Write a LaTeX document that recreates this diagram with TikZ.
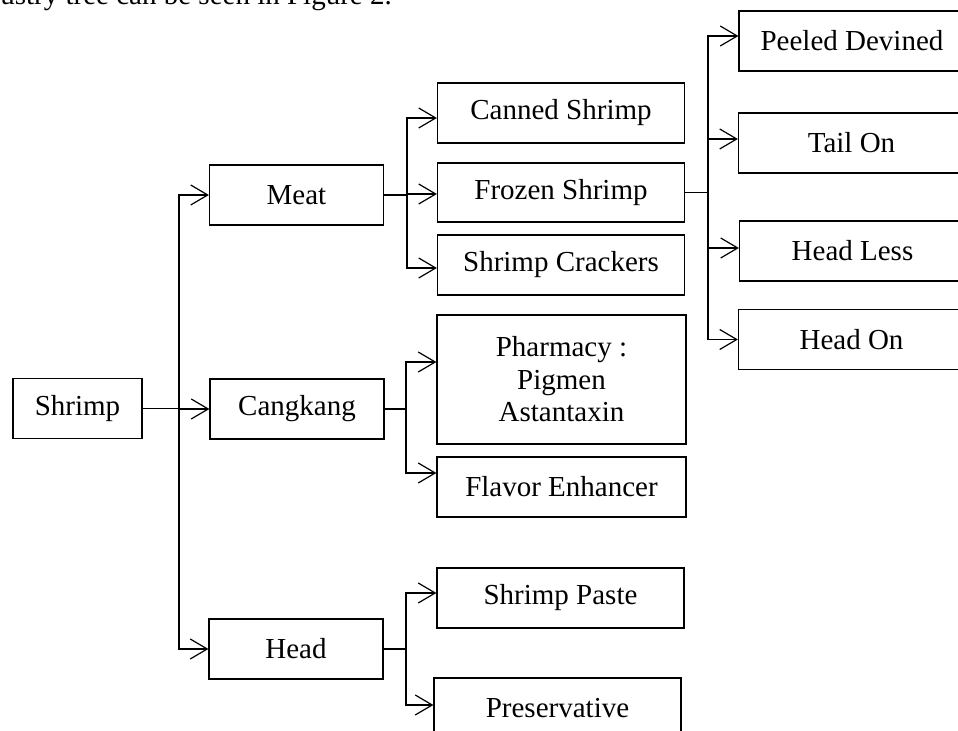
\documentclass[tikz,border=0pt]{standalone}
\usepackage{fontspec}
\setmainfont{Liberation Serif}
\usetikzlibrary{arrows.meta}

\tikzset{
  item/.style={draw, line width=0.6pt, inner sep=0pt, align=center,
    minimum width=123.5pt, minimum height=30pt},
  small/.style={item, minimum width=87pt},
  cut/.style={item, minimum width=113pt},
  arr/.style={-{Straight Barb[length=8.5pt,width=10pt,line width=0.6pt]}, line width=0.6pt},
  link/.style={line width=0.6pt}
}

\begin{document}
\begin{tikzpicture}[x=0.5pt, y=-0.5pt, font=\fontsize{14.5pt}{16.25pt}\selectfont]
\useasboundingbox (0,0) rectangle (958,731);
\clip (0,0) rectangle (958,731);

% cut-off caption line
\node[anchor=base west, inner sep=0pt] (caption) at (0,5) {ustry tree can be seen in Figure 2.};

% boxes
\node[item, minimum width=64.5pt] (shrimp) at (77.5,408.5) {Shrimp};
\node[small] (meat) at (296.5,195) {Meat};
\node[small] (cangkang) at (297,409) {Cangkang};
\node[small] (head) at (296,649) {Head};

\node[item] (canned) at (561,113) {Canned Shrimp};
\node[item, minimum height=29.5pt] (frozen) at (561,192.5) {Frozen Shrimp};
\node[item] (crackers) at (561,265) {Shrimp Crackers};
\node[item, minimum width=124.5pt, minimum height=64.5pt] (pharmacy) at (561.5,379.5) {Pharmacy :\\Pigmen\\Astantaxin};
\node[item, minimum width=124.5pt] (flavor) at (561.5,487) {Flavor Enhancer};
\node[item] (paste) at (560.5,598) {Shrimp Paste};
\node[item] (preservative) at (557.5,708) {Preservative};

\node[cut] (peeled) at (852,41) {Peeled Devined};
\node[cut] (tailon) at (851.5,143) {Tail On};
\node[cut] (headless) at (852.5,251) {Head Less};
\node[cut] (headon) at (851.5,339.5) {Head On};

% branch points
\coordinate (s0) at (179,408.5);
\coordinate (m0) at (407,195);
\coordinate (c0) at (406,409);
\coordinate (h0) at (406,649);
\coordinate (f0) at (708,192.5);

% connectors
\draw[link] (shrimp.east) -- (s0);
\foreach \n in {meat, cangkang, head}
  \draw[arr] (s0) |- (\n.west);

\draw[link] (meat.east) -- (m0);
\foreach \n/\s in {canned/-2.5, frozen/-0.75, crackers/-1.5}
  \draw[arr] (m0) |- ([yshift=\s pt]\n.west);

\draw[link] (cangkang.east) -- (c0);
\foreach \n/\s in {pharmacy/8.75, flavor/7}
  \draw[arr] (c0) |- ([yshift=\s pt]\n.west);

\draw[link] (head.east) -- (h0);
\foreach \n/\s in {paste/2.5, preservative/1.5}
  \draw[arr] (h0) |- ([yshift=\s pt]\n.west);

\draw[link] (frozen.east) -- (f0);
\foreach \n/\s in {peeled/2.5, tailon/2, headless/1.5, headon/0}
  \draw[arr] (f0) |- ([yshift=\s pt]\n.west);
\end{tikzpicture}
\end{document}
